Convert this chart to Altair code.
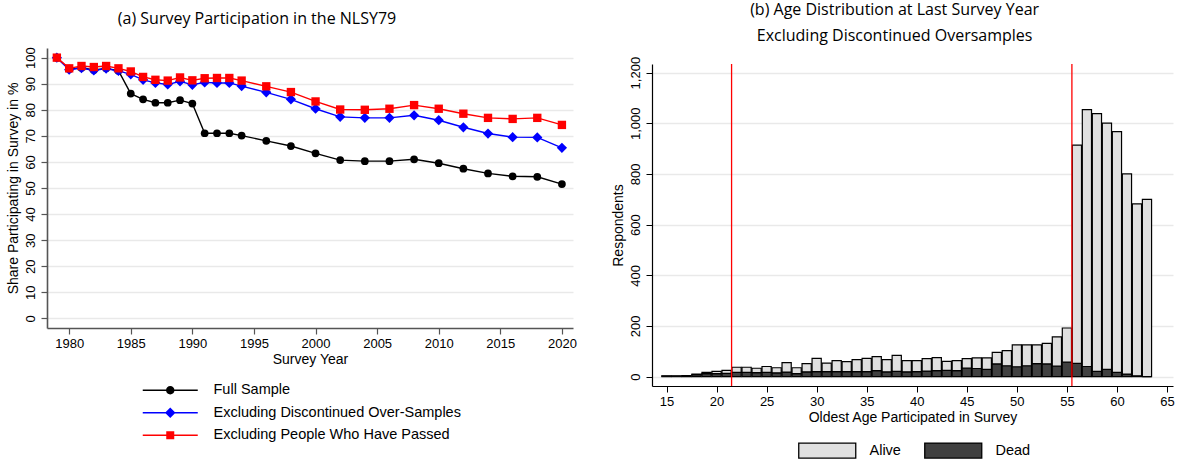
import altair as alt
import pandas as pd

# ---------------- Panel (a): survey participation ----------------
survey_years = [1979, 1980, 1981, 1982, 1983, 1984, 1985, 1986, 1987, 1988, 1989,
                1990, 1991, 1992, 1993, 1994, 1996, 1998, 2000, 2002, 2004, 2006,
                2008, 2010, 2012, 2014, 2016, 2018, 2020]
full_sample = [100, 95.6, 96.1, 95.3, 95.9, 95.0, 86.2, 84.0, 82.7, 82.7, 83.7,
               82.4, 71.0, 71.0, 71.0, 70.1, 68.1, 66.1, 63.3, 60.7, 60.3, 60.3,
               61.0, 59.5, 57.4, 55.6, 54.5, 54.3, 51.5]
excl_oversamples = [100, 95.4, 96.0, 95.1, 95.8, 94.9, 93.6, 91.5, 90.3, 89.7, 90.9,
                    89.6, 90.5, 90.3, 90.3, 89.1, 86.7, 84.0, 80.4, 77.3, 76.9, 76.9,
                    77.9, 76.0, 73.3, 70.9, 69.5, 69.4, 65.4]
excl_passed = [100, 95.9, 96.8, 96.4, 96.8, 95.9, 94.7, 92.6, 91.5, 91.2, 92.4,
               91.3, 92.1, 92.2, 92.2, 91.2, 89.0, 86.8, 83.2, 80.1, 80.0, 80.4,
               81.8, 80.4, 78.5, 76.9, 76.5, 76.9, 74.2]
series_names = ["Full Sample", "Excluding Discontinued Over-Samples",
                "Excluding People Who Have Passed"]

# ---------------- Panel (b): age at last survey ----------------
ages = list(range(15, 64))
alive = [1, 1, 1, 2, 5, 9, 12,
         20, 20, 17, 23, 20, 37, 23,
         32, 52, 33, 43, 39, 47, 52,
         55, 48, 63, 44, 43, 49, 51,
         35, 39, 37, 42, 45, 46, 60,
         86, 82, 74, 81, 115, 135, 862,
         1014, 1017, 972, 950, 790, 679, 700]
dead = [2, 2, 3, 8, 12, 12, 13,
        17, 17, 16, 17, 15, 18, 12,
        19, 20, 20, 20, 20, 20, 20,
        24, 19, 21, 19, 20, 22, 24,
        25, 24, 34, 32, 29, 50, 43,
        39, 43, 51, 50, 42, 57, 52,
        40, 21, 29, 17, 10, 3, 0]
status_names = ["Alive", "Dead"]
cutoff_ages = [21.5, 55.5]

AXIS_FONT = "Liberation Sans"
TITLE_FONT = "Open Sans"

line_colors = ["#000000", "#0000ff", "#ff0000"]
marker_shapes = ["circle", "diamond", "square"]
marker_sizes = [60, 105, 70]

# legend glyphs: a short line segment with the series marker in its middle
seg = "M-5.5,-0.13H5.5V0.13H-5.5Z "
legend_glyphs = [
    seg + "M0.84,0A0.84,0.84 0 1,1 -0.84,0A0.84,0.84 0 1,1 0.84,0Z",
    seg + "M0,-1.05L1.05,0L0,1.05L-1.05,0Z",
    seg + "M-0.8,-0.8H0.8V0.8H-0.8Z",
]

rows = []
for name, vals in zip(series_names, [full_sample, excl_oversamples, excl_passed]):
    for yr, v in zip(survey_years, vals):
        rows.append({"year": yr, "share": v, "series": name})
part = pd.DataFrame(rows)

x_a = alt.X("year:Q",
            scale=alt.Scale(domain=[1978.2, 2020.9], nice=False, zero=False),
            axis=alt.Axis(values=list(range(1980, 2021, 5)), format="d",
                          title="Survey Year", grid=False,
                          labelFont=AXIS_FONT, labelFontSize=13, labelColor="black",
                          titleFont=AXIS_FONT, titleFontSize=14, titleFontWeight="normal",
                          titleColor="black", titlePadding=2,
                          domainColor="#555555", domainWidth=1.6,
                          tickColor="#555555", tickWidth=1.2, tickSize=6,
                          labelPadding=3))
y_a = alt.Y("share:Q",
            scale=alt.Scale(domain=[-3.7, 103.7], nice=False, zero=False),
            axis=alt.Axis(values=list(range(0, 101, 10)), title="Share Participating in Survey in %",
                          grid=True, gridColor="#e9e9e9", gridWidth=1.5,
                          labelAngle=270, labelAlign="center", labelBaseline="bottom",
                          labelFont=AXIS_FONT, labelFontSize=13, labelColor="black",
                          titleFont=AXIS_FONT, titleFontSize=14, titleFontWeight="normal",
                          titleColor="black", titlePadding=4,
                          domainColor="#555555", domainWidth=1.6,
                          tickColor="#555555", tickWidth=1.2, tickSize=6,
                          labelPadding=4))

layers_a = []
for name, col, shp, sz in zip(series_names, line_colors, marker_shapes, marker_sizes):
    sub = alt.Chart(part).transform_filter(alt.datum.series == name)
    layers_a.append(sub.mark_line(color=col, strokeWidth=1.4).encode(x=x_a, y=y_a))
    layers_a.append(sub.mark_point(shape=shp, size=sz, filled=True, opacity=1,
                                   color=col).encode(x=x_a, y=y_a))

legend_a = alt.Legend(title=None, orient="none", legendX=116, legendY=335,
                      direction="vertical", symbolSize=100, symbolStrokeWidth=0,
                      symbolOpacity=1, labelFont=AXIS_FONT, labelFontSize=14.5,
                      labelColor="black", labelOffset=36, labelLimit=400,
                      rowPadding=7.5, padding=0)
legend_layer = alt.Chart(part).transform_filter("false").mark_point(
    filled=True, strokeWidth=0).encode(
    x=x_a, y=y_a,
    color=alt.Color("series:N", scale=alt.Scale(domain=series_names, range=line_colors),
                    legend=legend_a),
    shape=alt.Shape("series:N", scale=alt.Scale(domain=series_names, range=legend_glyphs),
                    legend=legend_a),
)

panel_a = alt.layer(*layers_a, legend_layer).properties(
    width=526, height=280,
    title=alt.TitleParams(text="(a) Survey Participation in the NLSY79",
                          font=TITLE_FONT, fontSize=16, fontWeight="normal",
                          color="black", frame="group",
                          anchor="middle", dx=-53, offset=20),
)

# ---------------- Panel (b) chart ----------------
brows = []
for a, al, de in zip(ages, alive, dead):
    brows.append({"age": a, "status": "Dead", "count": de, "stack_order": 0})
    brows.append({"age": a, "status": "Alive", "count": al, "stack_order": 1})
bars = pd.DataFrame(brows)

x_b = alt.X("age:Q",
            scale=alt.Scale(domain=[13.55, 65.6], nice=False, zero=False, padding=0),
            axis=alt.Axis(values=list(range(15, 66, 5)), title="Oldest Age Participated in Survey",
                          grid=False, labelFont=AXIS_FONT, labelFontSize=13,
                          labelColor="black", titleFont=AXIS_FONT, titleFontSize=14,
                          titleFontWeight="normal", titleColor="black", titlePadding=2,
                          domainColor="black", domainWidth=1.2, tickColor="black",
                          tickWidth=1, tickSize=6, labelPadding=3))
y_b = alt.Y("count:Q", stack="zero",
            scale=alt.Scale(domain=[-37, 1234], nice=False, zero=False),
            axis=alt.Axis(values=list(range(0, 1201, 200)), format=",d",
                          title="Respondents", grid=True, gridColor="#e9e9e9", gridWidth=1.5,
                          labelAngle=270, labelAlign="center", labelBaseline="bottom",
                          labelFont=AXIS_FONT, labelFontSize=13, labelColor="black",
                          titleFont=AXIS_FONT, titleFontSize=14, titleFontWeight="normal",
                          titleColor="black", titlePadding=4,
                          domainColor="black", domainWidth=1.2, tickColor="black",
                          tickWidth=1, tickSize=6, labelPadding=4))

legend_b = alt.Legend(title=None, orient="none", legendX=168, legendY=379,
                      direction="horizontal", symbolSize=100,
                      symbolType="M-5.7,-1.5H5.7V1.5H-5.7Z",
                      symbolStrokeColor="black", symbolStrokeWidth=1.3,
                      labelFont=AXIS_FONT, labelFontSize=14.5, labelColor="black",
                      labelOffset=35, columnPadding=21, padding=0)

bar_layer = alt.Chart(bars).mark_bar(width=9.2, stroke="black", strokeWidth=1.2).encode(
    x=x_b, y=y_b,
    fill=alt.Fill("status:N", scale=alt.Scale(domain=status_names,
                                              range=["#e0e0e0", "#404040"]),
                  legend=legend_b),
    order=alt.Order("stack_order:Q"),
)
rule_layer = alt.Chart(pd.DataFrame({"age": cutoff_ages})).mark_rule(
    color="#ff0000", strokeWidth=1.3).encode(x=alt.X("age:Q"))

panel_b = alt.layer(bar_layer, rule_layer).properties(width=521, height=322)

# thin empty strip that sets panel (b) a little lower than panel (a)
spacer = alt.Chart(pd.DataFrame({"gap": [0]})).mark_point(opacity=0).encode(
    x=alt.X("gap:Q", axis=None), y=alt.Y("gap:Q", axis=None)
).properties(width=521, height=1)

panel_b_box = alt.vconcat(spacer, panel_b, spacing=4).properties(
    title=alt.TitleParams(text=["(b) Age Distribution at Last Survey Year",
                                "Excluding Discontinued Oversamples"],
                          font=TITLE_FONT, fontSize=16, fontWeight="normal",
                          color="black", lineHeight=26, frame="bounds",
                          anchor="middle", dx=2, offset=1.5),
).resolve_scale(x="independent", y="independent").resolve_legend(fill="independent")

chart = alt.hconcat(panel_a, panel_b_box, spacing=33).properties(
    padding={"left": 6, "top": 2, "right": 0, "bottom": 0},
    background="white",
).resolve_legend(color="independent", shape="independent",
                 fill="independent").configure_view(stroke=None)

chart.save("out.html", embed_options={"renderer": "svg", "actions": False})
